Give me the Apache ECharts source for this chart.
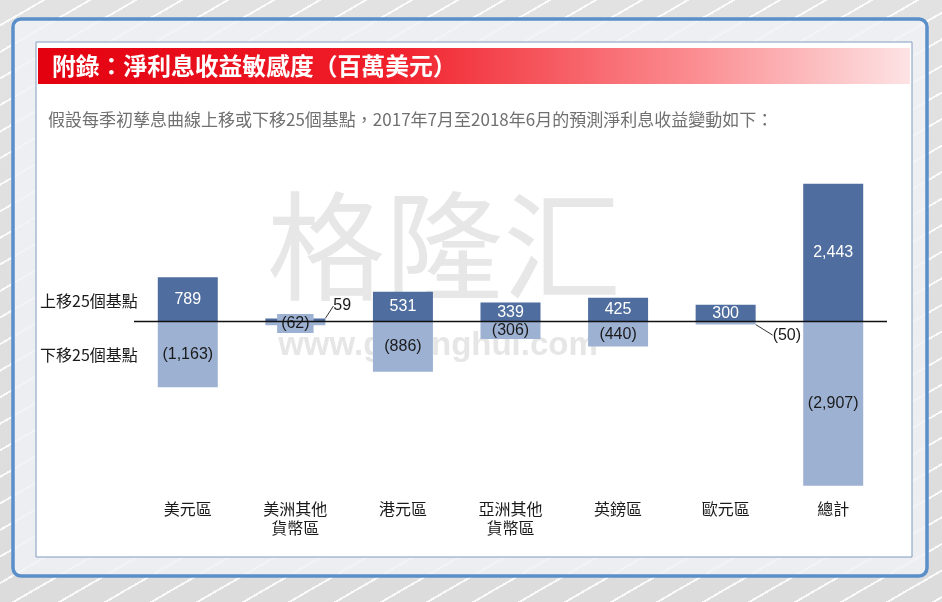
<!DOCTYPE html>
<html>
<head>
<meta charset="utf-8">
<script src="https://cdn.jsdelivr.net/npm/echarts@6/dist/echarts.min.js"></script>
<style>
html,body{margin:0;padding:0;}
body{width:942px;height:602px;overflow:hidden;
background:
 repeating-linear-gradient(150deg, rgba(255,255,255,0) 0px, rgba(255,255,255,0) 21px, rgba(255,255,255,0.85) 21px, rgba(255,255,255,0.85) 23px),
 linear-gradient(180deg,#e2e2e2,#dcdcdc);}
#chart{width:942px;height:602px;}
</style>
</head>
<body>
<div id="chart"></div>
<script>
const titleText = '附錄：淨利息收益敏感度（百萬美元）';
const subtitleText = '假設每季初孳息曲線上移或下移25個基點，2017年7月至2018年6月的預測淨利息收益變動如下：';
const categories = ['美元區', '美洲其他\n貨幣區', '港元區', '亞洲其他\n貨幣區', '英鎊區', '歐元區', '總計'];
const seriesNames = ['上移25個基點', '下移25個基點'];
const upValues = [789, 59, 531, 339, 425, 300, 2443];
const downValues = [-1163, -62, -886, -306, -440, -50, -2907];

const DARK = '#4f6d9e';
const LIGHT = '#9db1d3';
const CJK = '"Noto Sans CJK TC","Noto Sans CJK SC",sans-serif';
const NUM = '"Liberation Sans",Arial,sans-serif';

function fmt(v) {
  const s = Math.abs(v).toLocaleString('en-US');
  return v < 0 ? '(' + s + ')' : s;
}

const chart = echarts.init(document.getElementById('chart'), null, {renderer: 'canvas'});

const upData = upValues.map((v, i) => {
  if (i === 1) {
    return {value: v, label: {position: 'right', color: '#1a1a1a'}, labelLine: {show: true, lineStyle: {color: '#333', width: 1}}};
  }
  return v;
});
const downData = downValues.map((v, i) => {
  if (i === 1) {
    return {value: v, label: {position: 'inside', backgroundColor: LIGHT, padding: [2, 4, 1, 4]}};
  }
  if (i === 5) {
    return {value: v, label: {position: 'right'}, labelLine: {show: true, lineStyle: {color: '#333', width: 1}}};
  }
  return v;
});

const option = {
  backgroundColor: 'transparent',
  animation: false,
  graphic: [
    {type: 'rect', z: -10, shape: {x: 13, y: 19, width: 914, height: 557, r: 8},
     style: {fill: 'rgba(240,242,246,0.82)', stroke: '#5b8fc9', lineWidth: 3.5}},
    {type: 'rect', z: -9, shape: {x: 36, y: 42, width: 876, height: 515},
     style: {fill: '#ffffff', stroke: '#7e9cbc', lineWidth: 1}},
    {type: 'rect', z: -8, shape: {x: 38, y: 48, width: 872, height: 36},
     style: {fill: new echarts.graphic.LinearGradient(0, 0, 1, 0, [
       {offset: 0, color: '#e3000f'}, {offset: 0.4, color: '#f01f2a'},
       {offset: 0.75, color: '#fb8c90'}, {offset: 1, color: '#fde3e4'}])}},
    {type: 'text', z: 5, x: 52, y: 66,
     style: {text: titleText, fill: '#ffffff', font: 'bold 23.8px ' + CJK, textVerticalAlign: 'middle'}},
    {type: 'text', z: 5, x: 48, y: 120,
     style: {text: subtitleText, fill: '#707070', font: '17px ' + CJK, textVerticalAlign: 'middle'}},
    {type: 'text', z: -5, x: 444, y: 246,
     style: {text: '格隆汇', fill: '#e7e7e7', font: 'normal 118px "Noto Sans CJK SC",sans-serif', textAlign: 'center', textVerticalAlign: 'middle'}},
    {type: 'text', z: -5, x: 438, y: 346,
     style: {text: 'www.gelonghui.com', fill: '#e6e6e6', font: 'bold 33px ' + NUM, textAlign: 'center', textVerticalAlign: 'middle'}},
    {type: 'text', z: 5, x: 40, y: 301,
     style: {text: seriesNames[0], fill: '#1a1a1a', font: '16px ' + CJK, textVerticalAlign: 'middle'}},
    {type: 'text', z: 5, x: 40, y: 355,
     style: {text: seriesNames[1], fill: '#1a1a1a', font: '16px ' + CJK, textVerticalAlign: 'middle'}}
  ],
  grid: {left: 134, right: 55, top: 175, bottom: 111, containLabel: false},
  xAxis: {
    type: 'category', data: categories,
    axisLine: {show: false}, axisTick: {show: false}, splitLine: {show: false},
    axisLabel: {color: '#1a1a1a', fontSize: 16, fontFamily: CJK, lineHeight: 19, margin: 8, interval: 0}
  },
  yAxis: {type: 'value', min: -3000, max: 2600, show: false, splitLine: {show: false}},
  series: [
    {
      name: seriesNames[0], type: 'bar', data: upData, barWidth: 60, barGap: '-100%',
      itemStyle: {color: DARK},
      label: {show: true, position: 'inside', color: '#ffffff', fontSize: 16, fontFamily: NUM, formatter: p => fmt(p.value)},
      labelLayout: function (p) {
        if (p.dataIndex === 1) return {dx: 3, dy: -14};
        return {};
      },
      markLine: {
        silent: true, symbol: 'none', label: {show: false},
        lineStyle: {color: '#111', width: 1.3, type: 'solid'},
        data: [{yAxis: 0}]
      },
      z: 2
    },
    {
      name: seriesNames[1], type: 'bar', data: downData, barWidth: 60,
      itemStyle: {color: LIGHT},
      label: {show: true, position: 'inside', color: '#1a1a1a', fontSize: 16, fontFamily: NUM, formatter: p => fmt(p.value)},
      labelLayout: function (p) {
        if (p.dataIndex === 5) return {dx: 12, dy: 12};
        return {};
      },
      z: 3
    }
  ]
};
chart.setOption(option);
</script>
</body>
</html>
